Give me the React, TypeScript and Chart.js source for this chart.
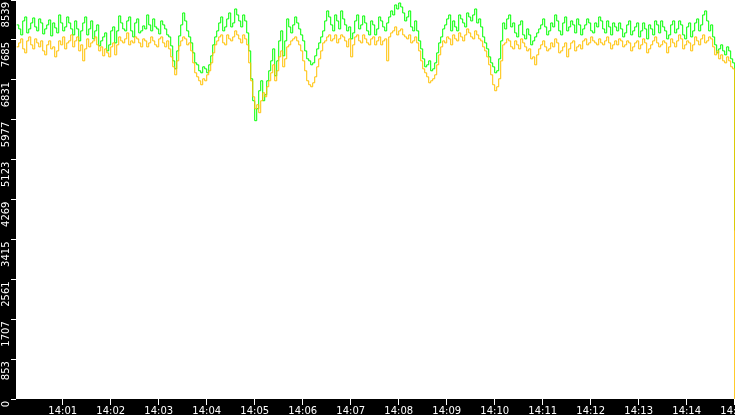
import React, { useEffect, useRef } from "react";
import { Chart, registerables } from "chart.js";

Chart.register(...registerables);

// sample interval (seconds after 14:00:00)
const SAMPLE_STEP = 2.5;

const greenValues = [
  8006, 7920, 7792, 8091, 8176, 7835, 7920, 8048, 8155, 7963, 7878, 8134, 8048, 7813, 7920, 8006, 8112, 7771, 8048, 7942,
  7835, 8219, 8048, 7878, 7963, 8176, 8048, 7920, 7792, 8091, 7920, 7664, 7878, 8048, 8176, 7792, 7920, 8091, 7707, 7878,
  8006, 7557, 7664, 7749, 7835, 7450, 7579, 7878, 7963, 7621, 7878, 8198, 8048, 7920, 7878, 8091, 8176, 7878, 7749, 8048,
  8134, 7835, 7878, 7984, 7920, 8219, 8006, 7878, 8134, 7963, 7920, 7813, 8091, 8006, 7920, 7792, 7749, 7557, 7237, 7066,
  7450, 7771, 8006, 8262, 8091, 7878, 7749, 7621, 7408, 7194, 7152, 7024, 6981, 7109, 7066, 6981, 7152, 7344, 7579, 7749,
  7878, 8048, 8176, 7878, 7963, 8134, 8262, 7963, 8048, 8347, 8219, 8091, 7963, 8219, 8091, 7835, 7450, 6853, 6383, 5956,
  6212, 6597, 6810, 6383, 6511, 6810, 7024, 7237, 7493, 6917, 7237, 7664, 7878, 7344, 7664, 8134, 7963, 7835, 8006, 8176,
  8048, 7920, 7792, 7664, 7450, 7280, 7237, 7152, 7194, 7344, 7493, 7621, 7749, 7878, 8091, 8305, 8176, 8006, 7878, 8219,
  8091, 7920, 8305, 8134, 8006, 7878, 7963, 7707, 7835, 8091, 8219, 7920, 8006, 8198, 8048, 7878, 7792, 8091, 8006, 7792,
  7920, 8176, 8091, 7963, 7878, 8048, 8176, 8305, 8219, 8433, 8347, 8475, 8390, 8262, 8091, 8176, 8305, 7963, 7878, 8091,
  7878, 7664, 7493, 7280, 7109, 7152, 7237, 7024, 7066, 7194, 7408, 7621, 7749, 7920, 8006, 8134, 8219, 7878, 8091, 7963,
  7878, 8219, 8134, 8048, 7963, 8262, 8176, 8091, 8219, 8347, 8048, 8134, 7963, 7749, 7621, 7493, 7322, 7194, 7109, 6981,
  7024, 7280, 7664, 8048, 7920, 8134, 8219, 7963, 8048, 7835, 7749, 8006, 8091, 7792, 7707, 7920, 7792, 7579, 7664, 7749,
  7835, 7920, 8006, 8134, 7963, 7792, 7878, 8048, 7963, 8219, 8091, 7878, 7792, 8048, 8176, 7878, 7963, 8091, 8006, 7835,
  8134, 8006, 7792, 7920, 8006, 8134, 8048, 7878, 7835, 8048, 7963, 8176, 8091, 7920, 7835, 8091, 7963, 7792, 8048, 7963,
  7878, 8048, 7920, 7749, 7835, 8006, 8091, 7792, 7878, 7963, 8048, 7749, 7878, 8048, 7920, 7707, 8006, 7920, 7792, 8091,
  8006, 7835, 8091, 7963, 7878, 7707, 7792, 8006, 8091, 7835, 7920, 8091, 8006, 7792, 7707, 7963, 8048, 7749, 7878, 8048,
  8134, 7878, 8006, 8219, 8305, 8091, 7878, 8006, 7749, 7579, 7408, 7493, 7579, 7450, 7365, 7536, 7450, 7280, 7194, 3608,
];

const orangeValues = [
  7536, 7621, 7707, 7493, 7408, 7664, 7749, 7579, 7493, 7707, 7621, 7536, 7664, 7450, 7365, 7579, 7664, 7493, 7536, 7322,
  7450, 7664, 7579, 7749, 7493, 7621, 7664, 7792, 7536, 7664, 7749, 7450, 7579, 7237, 7493, 7707, 7536, 7621, 7664, 7749,
  7579, 7450, 7536, 7344, 7493, 7408, 7322, 7536, 7621, 7365, 7579, 7749, 7664, 7621, 7707, 7835, 7579, 7664, 7621, 7749,
  7707, 7621, 7536, 7707, 7664, 7536, 7621, 7749, 7664, 7579, 7536, 7707, 7749, 7621, 7536, 7664, 7493, 7322, 7109, 6938,
  7237, 7557, 7664, 7749, 7707, 7579, 7621, 7450, 7194, 6981, 6895, 6810, 6725, 6853, 6810, 6938, 7024, 7194, 7408, 7579,
  7664, 7749, 7792, 7621, 7579, 7792, 7707, 7664, 7749, 7878, 7792, 7707, 7621, 7792, 7707, 7579, 7194, 6810, 6468, 6212,
  6298, 6127, 6383, 6554, 6468, 6682, 6810, 6981, 7152, 6810, 7024, 7322, 7450, 7109, 7280, 7536, 7579, 7664, 7707, 7749,
  7664, 7579, 7450, 7237, 7024, 6810, 6725, 6682, 6767, 6895, 7109, 7280, 7450, 7621, 7664, 7749, 7792, 7664, 7707, 7792,
  7621, 7707, 7792, 7749, 7664, 7536, 7707, 7322, 7579, 7749, 7792, 7664, 7621, 7792, 7707, 7621, 7579, 7707, 7749, 7579,
  7664, 7749, 7579, 7664, 7707, 7237, 7749, 7835, 7878, 7963, 7792, 7878, 7920, 7792, 7749, 7707, 7792, 7621, 7664, 7749,
  7621, 7450, 7237, 7066, 6981, 6895, 6767, 6810, 6853, 6938, 7152, 7365, 7536, 7664, 7621, 7749, 7707, 7579, 7792, 7707,
  7664, 7835, 7749, 7664, 7792, 7920, 7835, 7749, 7707, 7878, 7792, 7707, 7664, 7536, 7450, 7322, 7152, 6938, 6725, 6597,
  6682, 6853, 7237, 7579, 7621, 7707, 7664, 7536, 7493, 7664, 7579, 7493, 7707, 7621, 7536, 7450, 7493, 7280, 7322, 7152,
  7365, 7493, 7579, 7664, 7536, 7450, 7493, 7621, 7536, 7707, 7621, 7408, 7450, 7536, 7621, 7322, 7493, 7621, 7664, 7450,
  7536, 7579, 7493, 7664, 7707, 7579, 7621, 7749, 7664, 7621, 7579, 7707, 7621, 7579, 7664, 7749, 7621, 7493, 7579, 7664,
  7579, 7707, 7664, 7536, 7579, 7664, 7621, 7450, 7536, 7621, 7664, 7493, 7579, 7707, 7621, 7408, 7493, 7579, 7664, 7749,
  7621, 7536, 7579, 7664, 7621, 7408, 7536, 7707, 7621, 7536, 7664, 7792, 7707, 7493, 7579, 7664, 7621, 7450, 7579, 7749,
  7664, 7579, 7707, 7792, 7621, 7664, 7749, 7707, 7536, 7365, 7450, 7280, 7365, 7237, 7194, 7322, 7237, 7109, 7066, 0,
];

const xTickSeconds = [60, 120, 180, 240, 300, 360, 420, 480, 540, 600, 660, 720, 780, 840, 900];
const xTickLabels = ["14:01", "14:02", "14:03", "14:04", "14:05", "14:06", "14:07", "14:08", "14:09", "14:10", "14:11", "14:12", "14:13", "14:14", "14:15"];
const yTickValues = [0, 853, 1707, 2561, 3415, 4269, 5123, 5977, 6831, 7685, 8539];

const toPoints = (vals: number[]) => vals.map((v, i) => ({ x: (i + 1) * SAMPLE_STEP, y: v }));

const bgPlugin = {
  id: "bgPlugin",
  beforeDraw(chart: any) {
    const { ctx, chartArea, width, height } = chart;
    ctx.save();
    ctx.fillStyle = "#000000";
    ctx.fillRect(0, 0, width, height);
    ctx.fillStyle = "#ffffff";
    ctx.fillRect(chartArea.left, chartArea.top, chartArea.right - chartArea.left, chartArea.bottom - chartArea.top);
    ctx.restore();
  },
};

export default function App() {
  const ref = useRef<HTMLCanvasElement | null>(null);
  useEffect(() => {
    document.body.style.margin = "0";
    const canvas = ref.current;
    if (!canvas) return;
    const font = { family: "'DejaVu Sans', sans-serif", size: 10 };
    const chart = new Chart(canvas, {
      type: "line",
      data: {
        datasets: [
          {
            label: "orange",
            data: toPoints(orangeValues),
            borderColor: "#ffc000",
            borderWidth: 1,
            pointRadius: 0,
            stepped: true,
            fill: false,
          },
          {
            label: "green",
            data: toPoints(greenValues),
            borderColor: "#00ff00",
            borderWidth: 1,
            pointRadius: 0,
            stepped: true,
            fill: false,
          },
        ],
      },
      options: {
        animation: false,
        responsive: true,
        maintainAspectRatio: false,
        layout: { padding: 0 },
        plugins: { legend: { display: false }, tooltip: { enabled: false } },
        scales: {
          x: {
            type: "linear",
            min: 1.6,
            max: 900.4,
            afterBuildTicks: (scale: any) => {
              scale.ticks = xTickSeconds.map((v) => ({ value: v }));
            },
            afterFit: (scale: any) => {
              scale.height = 16;
              scale.paddingLeft = 0;
              scale.paddingRight = 0;
            },
            ticks: {
              color: "#ffffff",
              font,
              autoSkip: false,
              maxRotation: 0,
              minRotation: 0,
              padding: 0,
              callback: (value: any) => {
                const idx = xTickSeconds.indexOf(Number(value));
                return idx >= 0 ? xTickLabels[idx] : "";
              },
            },
            grid: { drawOnChartArea: false, drawTicks: true, tickLength: 6, color: "#ffffff", tickColor: "#ffffff" },
            border: { display: false },
          },
          y: {
            type: "linear",
            min: 0,
            max: 8539,
            afterBuildTicks: (scale: any) => {
              scale.ticks = yTickValues.map((v) => ({ value: v }));
            },
            afterFit: (scale: any) => {
              scale.width = 16;
              scale.paddingTop = 0;
              scale.paddingBottom = 0;
            },
            ticks: {
              color: "#ffffff",
              font,
              autoSkip: false,
              minRotation: 90,
              maxRotation: 90,
              padding: 5,
              labelOffset: 2,
              callback: (value: any) => String(value),
            },
            grid: { drawOnChartArea: false, drawTicks: true, tickLength: 5, color: "#ffffff", tickColor: "#ffffff" },
            border: { display: false },
          },
        },
      },
      plugins: [bgPlugin],
    } as any);
    return () => chart.destroy();
  }, []);
  return (
    <div style={{ width: 735, height: 415, position: "relative" }}>
      <canvas ref={ref} />
    </div>
  );
}
